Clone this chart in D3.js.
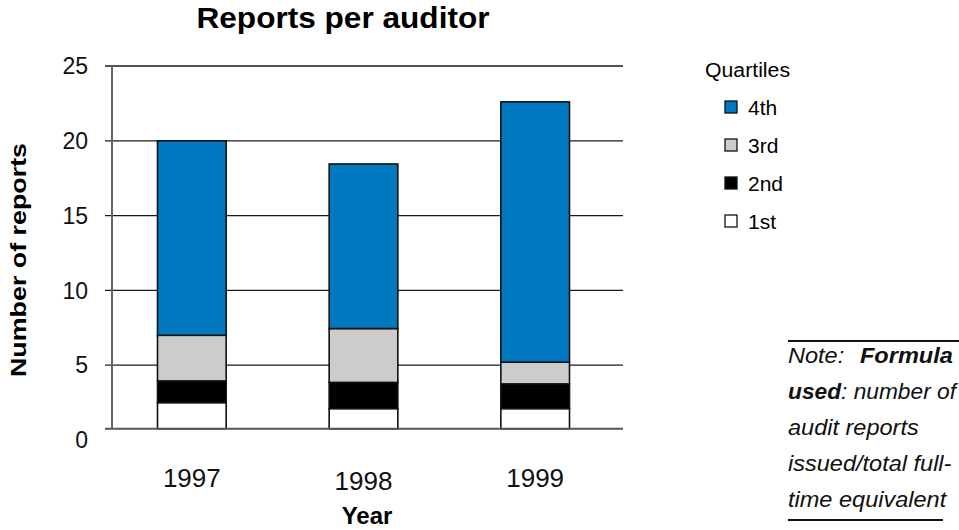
<!DOCTYPE html>
<html>
<head>
<meta charset="utf-8">
<script src="https://cdn.jsdelivr.net/npm/d3@7/dist/d3.min.js"></script>
<style>
  html, body { margin: 0; padding: 0; background: #fff; }
  svg { display: block; font-family: "Liberation Sans", Arial, Helvetica, sans-serif; }
</style>
</head>
<body>
<svg id="chart" width="959" height="530"></svg>
<script>
// Reports issued per auditor, split by quartile
const years = ["1997", "1998", "1999"];
const quartiles = ["1st", "2nd", "3rd", "4th"];
const q1 = [2.5, 2.1, 2.1];
const q2 = [1.45, 1.75, 1.65];
const q3 = [3.05, 3.6, 1.45];
const q4 = [13.0, 11.0, 17.4];
const yTicks = [0, 5, 10, 15, 20, 25];
const quartileColors = ["#ffffff", "#000000", "#cccccc", "#0079c1"];
const axisFloor = 0.75; // value at which the category axis crosses

const rows = years.map((yr, i) => ({ year: yr, "1st": q1[i], "2nd": q2[i], "3rd": q3[i], "4th": q4[i] }));

const svg = d3.select("#chart");

const x = d3.scaleBand().domain(years).range([106, 621]).paddingInner(0.6).paddingOuter(0.3);
const y = d3.scaleLinear().domain([0, 25]).range([440, 66]);
const color = d3.scaleOrdinal().domain(quartiles).range(quartileColors);

const plotLeft = 112, plotRight = 623;

// Horizontal gridlines with short outer ticks
svg.append("g").selectAll("line")
  .data(yTicks.filter(t => t > 0))
  .join("line")
  .attr("x1", 105).attr("x2", plotRight)
  .attr("y1", d => y(d)).attr("y2", d => y(d))
  .attr("stroke", "#1a1a1a").attr("stroke-width", 1.3);

// Y tick labels
svg.append("g").selectAll("text")
  .data(yTicks)
  .join("text")
  .attr("x", 88).attr("y", d => y(d))
  .attr("dy", "0.36em")
  .attr("text-anchor", "end")
  .attr("font-size", 23)
  .attr("fill", "#111")
  .text(d => d);

// Stacked bars
const series = d3.stack().keys(quartiles)(rows);

svg.append("g").selectAll("g")
  .data(series)
  .join("g")
  .attr("fill", d => color(d.key))
  .selectAll("rect")
  .data(d => d)
  .join("rect")
  .attr("x", d => x(d.data.year))
  .attr("width", x.bandwidth())
  .attr("y", d => y(d[1]))
  .attr("height", d => y(Math.max(d[0], axisFloor)) - y(d[1]))
  .attr("stroke", "#111")
  .attr("stroke-width", 1.6);

// Value axis line
svg.append("line")
  .attr("x1", plotLeft).attr("x2", plotLeft)
  .attr("y1", y(25)).attr("y2", y(axisFloor))
  .attr("stroke", "#666").attr("stroke-width", 2);

// Category axis line
svg.append("line")
  .attr("x1", 105).attr("x2", plotRight)
  .attr("y1", y(axisFloor)).attr("y2", y(axisFloor))
  .attr("stroke", "#555").attr("stroke-width", 2);

// Year labels
svg.append("g").selectAll("text")
  .data(years)
  .join("text")
  .attr("x", d => x(d) + x.bandwidth() / 2)
  .attr("y", (d, i) => i === 1 ? 490 : 487)
  .attr("text-anchor", "middle")
  .attr("font-size", 26)
  .attr("fill", "#111")
  .text(d => d);

// Titles
svg.append("text")
  .attr("x", 343).attr("y", 28)
  .attr("text-anchor", "middle")
  .attr("font-size", 29).attr("font-weight", "bold")
  .attr("textLength", 293).attr("lengthAdjust", "spacingAndGlyphs")
  .text("Reports per auditor");

svg.append("text")
  .attr("x", 367).attr("y", 524)
  .attr("text-anchor", "middle")
  .attr("font-size", 24).attr("font-weight", "bold")
  .text("Year");

svg.append("text")
  .attr("transform", "translate(26,260) rotate(-90)")
  .attr("text-anchor", "middle")
  .attr("font-size", 22).attr("font-weight", "bold")
  .attr("textLength", 234).attr("lengthAdjust", "spacingAndGlyphs")
  .text("Number of reports");

// Legend
const legend = svg.append("g").attr("transform", "translate(705,0)");
legend.append("text")
  .attr("x", 0).attr("y", 77)
  .attr("font-size", 20)
  .attr("textLength", 85).attr("lengthAdjust", "spacingAndGlyphs")
  .text("Quartiles");

const legendItems = legend.selectAll("g.item")
  .data(quartiles.slice().reverse())
  .join("g")
  .attr("class", "item")
  .attr("transform", (d, i) => `translate(0,${107 + i * 38})`);
legendItems.append("rect")
  .attr("x", 20).attr("y", -6)
  .attr("width", 12).attr("height", 12)
  .attr("fill", d => color(d))
  .attr("stroke", "#111").attr("stroke-width", 1.3);
legendItems.append("text")
  .attr("x", 43).attr("y", 0)
  .attr("dy", "0.36em")
  .attr("font-size", 21)
  .text(d => d);

// Formula note, set in a slightly widened italic face
svg.append("line").attr("x1", 788).attr("x2", 959).attr("y1", 341).attr("y2", 341)
  .attr("stroke", "#111").attr("stroke-width", 2);
svg.append("line").attr("x1", 788).attr("x2", 943).attr("y1", 520).attr("y2", 520)
  .attr("stroke", "#111").attr("stroke-width", 2);

const noteScale = 1.07;
const note = svg.append("g")
  .attr("transform", `translate(788,0) scale(${noteScale},1)`)
  .attr("font-size", 22).attr("font-style", "italic").attr("fill", "#111");

// Each part: [text, weight, optional start offset in px]; fit squeezes a long line
const noteLines = [
  { parts: [["Note:", "normal"], ["Formula", "bold", 72]] },
  { parts: [["used", "bold"], [": number of", "normal"]], fit: 168 },
  { parts: [["audit reports", "normal"]] },
  { parts: [["issued/total full-", "normal"]] },
  { parts: [["time equivalent", "normal"]] }
];
noteLines.forEach((ln, i) => {
  const t = note.append("text").attr("x", 0).attr("y", 363 + i * 36);
  ln.parts.forEach(p => {
    const s = t.append("tspan").attr("font-weight", p[1]).text(p[0]);
    if (p[2] != null) s.attr("x", p[2] / noteScale);
  });
  const natural = t.node().getComputedTextLength();
  if (ln.fit && natural * noteScale > ln.fit) {
    t.attr("textLength", ln.fit / noteScale).attr("lengthAdjust", "spacingAndGlyphs");
  }
});
</script>
</body>
</html>
